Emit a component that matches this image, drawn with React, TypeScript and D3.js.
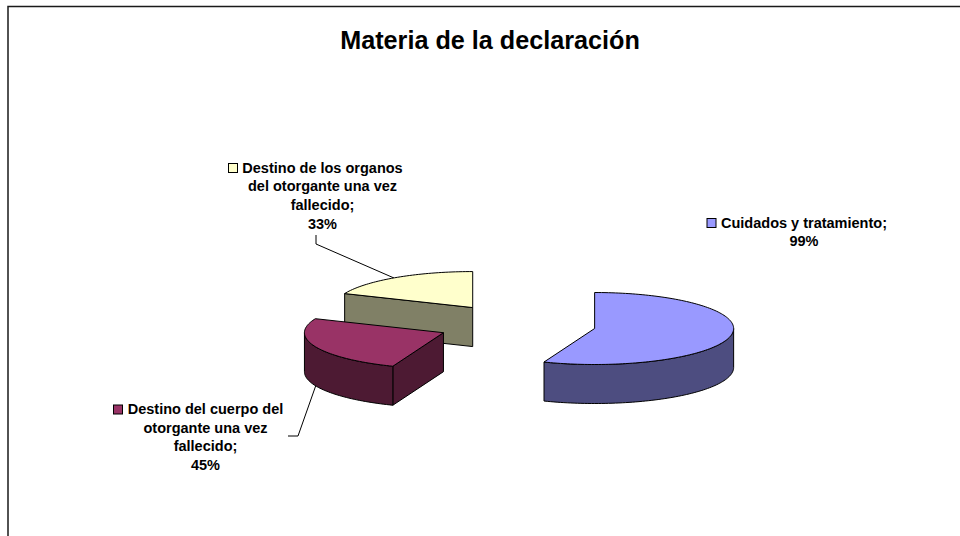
import React from "react";
import * as d3 from "d3";

const categories = [
  ["Cuidados y tratamiento;"],
  ["Destino del cuerpo del", "otorgante una vez", "fallecido;"],
  ["Destino de los organos", "del otorgante una vez", "fallecido;"],
];
const values = [99, 45, 33];
const topColors = ["#9999ff", "#993366", "#ffffcc"];
const wallColors = ["#4d4d80", "#4d1a33", "#808066"];

const W = 960;
const H = 536;
const FONT = "'Liberation Sans', Arial, sans-serif";

// 3D pie layout
const cx = 516.6;
const cy = 324.7;
const rx = 139;
const ry = 36;
const depth = 39;
const explode = 79.4;

// label block: centre x, first baseline, where the key square goes
const labelLayout = [
  { x: 804, y: 227.5, keyX: 707 },
  { x: 205.5, y: 414, keyX: 113.5 },
  { x: 322.5, y: 172.5, keyX: 228.5 },
];
const lineGap = 18.7;
const leaders = [
  null,
  [[288, 436], [298, 436], [316, 385]],
  [[316, 235], [316, 244], [394, 278]],
];

const slices = d3.pie<number>().sort(null)(values);

function point(c: [number, number], a: number): [number, number] {
  return [c[0] + rx * Math.sin(a), c[1] - ry * Math.cos(a)];
}

// points along the rim from a0 to a1
function rim(c: [number, number], a0: number, a1: number) {
  const n = Math.max(2, Math.ceil(Math.abs(a1 - a0) * 40));
  return d3.range(n + 1).map((i) => point(c, a0 + ((a1 - a0) * i) / n));
}

const line = d3.line();

export default function App() {
  const parts = slices.map((s, i) => {
    const mid = (s.startAngle + s.endAngle) / 2;
    const c: [number, number] = [
      cx + explode * Math.sin(mid),
      cy - explode * (ry / rx) * Math.cos(mid),
    ];
    const walls: string[] = [];
    const down = (p: [number, number]): [number, number] => [p[0], p[1] + depth];

    // flat cut faces
    if (Math.sin(s.startAngle) < -1e-6) {
      const p = point(c, s.startAngle);
      walls.push(line([c, p, down(p), down(c)])! + "Z");
    }
    if (Math.sin(s.endAngle) > 1e-6) {
      const p = point(c, s.endAngle);
      walls.push(line([c, p, down(p), down(c)])! + "Z");
    }
    // outer curved wall, only the front half shows
    const a0 = Math.max(s.startAngle, Math.PI / 2);
    const a1 = Math.min(s.endAngle, (3 * Math.PI) / 2);
    if (a1 > a0) {
      const top = rim(c, a0, a1);
      walls.push(line([...top, ...top.slice().reverse().map(down)])! + "Z");
    }
    const face = line([c, ...rim(c, s.startAngle, s.endAngle)])! + "Z";
    return { i, walls, face };
  });

  return (
    <svg
      width={W}
      height={H}
      style={{ position: "absolute", left: 0, top: 0, background: "#fff" }}
      fontFamily={FONT}
    >
      <path d={`M8,${H}V6.5H${W}`} fill="none" stroke="#1a1a1a" strokeWidth={1.5} />
      <text x={490} y={49} textAnchor="middle" fontSize={25.2} fontWeight="bold">
        Materia de la declaración
      </text>

      {leaders.map(
        (l, i) =>
          l && (
            <path
              key={i}
              d={line(l as [number, number][])!}
              fill="none"
              stroke="#000"
              strokeWidth={1}
            />
          )
      )}

      {[2, 1, 0].map((k) => {
        const p = parts[k];
        return (
          <g key={k} stroke="#000" strokeWidth={1} strokeLinejoin="round">
            {p.walls.map((d, j) => (
              <path key={j} d={d} fill={wallColors[k]} />
            ))}
            <path d={p.face} fill={topColors[k]} />
          </g>
        );
      })}

      {categories.map((lines, i) => {
        const lay = labelLayout[i];
        return (
          <g key={i} fontSize={14.5} fontWeight="bold" textAnchor="middle">
            <rect
              x={lay.keyX}
              y={lay.y - 9}
              width={9}
              height={9}
              fill={topColors[i]}
              stroke="#000"
              strokeWidth={1}
            />
            {lines.map((t, j) => (
              <text key={j} x={lay.x} y={lay.y + j * lineGap}>
                {t}
              </text>
            ))}
            <text x={lay.x} y={lay.y + lines.length * lineGap}>
              {values[i]}%
            </text>
          </g>
        );
      })}
    </svg>
  );
}
